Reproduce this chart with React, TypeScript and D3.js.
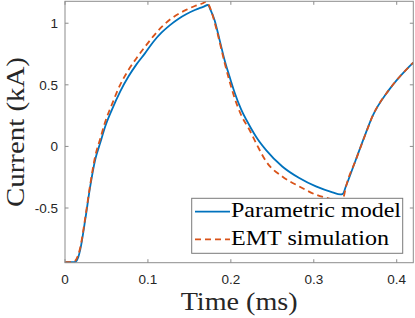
import React from "react";
import * as d3 from "d3";

const seriesNames = ["Parametric model", "EMT simulation"];
const xTicks = [0, 0.1, 0.2, 0.3, 0.4];
const yTicks = [-0.5, 0, 0.5, 1];
const yTickLabels = ["-0.5", "0", "0.5", "1"];
const xTickLabels = ["0", "0.1", "0.2", "0.3", "0.4"];

const paramT = [0, 0.010, 0.013, 0.016, 0.0184, 0.0244, 0.0304, 0.0364, 0.0424, 0.0485, 0.0565, 0.0665, 0.0765, 0.0866, 0.0966, 0.1066, 0.1166, 0.1266, 0.1366, 0.1466, 0.1566, 0.1666, 0.1723, 0.176, 0.1803, 0.1864, 0.1924, 0.1984, 0.2044, 0.2124, 0.2224, 0.2324, 0.2425, 0.262, 0.2825, 0.3026, 0.3226, 0.332, 0.335, 0.3387, 0.3507, 0.3627, 0.3707, 0.3907, 0.411, 0.42];
const paramV = [-0.94, -0.94, -0.935, -0.9, -0.838, -0.595, -0.325, -0.108, 0.027, 0.162, 0.297, 0.445, 0.567, 0.67, 0.757, 0.85, 0.925, 0.985, 1.035, 1.075, 1.107, 1.133, 1.148, 1.1, 1.027, 0.865, 0.702, 0.567, 0.44, 0.3, 0.17, 0.058, -0.03, -0.163, -0.257, -0.325, -0.373, -0.39, -0.385, -0.325, -0.108, 0.108, 0.243, 0.459, 0.62, 0.68];

const emtT = [0, 0.008, 0.012, 0.016, 0.0184, 0.0244, 0.0304, 0.0364, 0.0424, 0.0485, 0.0565, 0.0665, 0.0765, 0.0866, 0.0966, 0.1066, 0.1166, 0.1266, 0.1366, 0.1466, 0.1566, 0.1656, 0.1703, 0.174, 0.1803, 0.1864, 0.1924, 0.1984, 0.2044, 0.2124, 0.2224, 0.2324, 0.2425, 0.262, 0.2825, 0.3026, 0.3226, 0.332, 0.336, 0.3387, 0.3507, 0.3627, 0.3707, 0.3907, 0.411, 0.42];
const emtV = [-0.94, -0.94, -0.93, -0.88, -0.82, -0.58, -0.31, -0.08, 0.06, 0.2, 0.34, 0.5, 0.62, 0.72, 0.81, 0.895, 0.97, 1.03, 1.075, 1.11, 1.14, 1.16, 1.175, 1.14, 1.01, 0.85, 0.68, 0.53, 0.395, 0.255, 0.135, 0.0, -0.122, -0.244, -0.325, -0.392, -0.43, -0.445, -0.41, -0.33, -0.11, 0.105, 0.243, 0.459, 0.62, 0.68];

const colors = ["#0072BD", "#D95319"];

export default function App() {
  const W = 415, H = 318;
  const left = 65, right = 413.3, top = 1.3, bottom = 262.7;
  const x = d3.scaleLinear().domain([0, 0.42]).range([left, right]);
  const y = d3.scaleLinear().domain([-0.944, 1.178]).range([bottom, top]);
  const line = d3.line<[number, number]>().x(d => x(d[0])).y(d => y(d[1])).curve(d3.curveMonotoneX);
  const pData: [number, number][] = paramT.map((t, i) => [t, paramV[i]]);
  const eData: [number, number][] = emtT.map((t, i) => [t, emtV[i]]);
  const axisColor = "#8c8c8c";
  const tickLen = 3.5;
  const serif = "'Liberation Serif', 'DejaVu Serif', serif";
  const sans = "'Liberation Sans', Arial, sans-serif";

  const lgX = 191.7, lgY = 198.3, lgW = 211, lgH = 55;
  const rows = [211.7, 239.3];
  const textW = [170, 158];

  return (
    <svg width={W} height={H} style={{ position: "absolute", left: 0, top: 0, background: "#fff" }}>
      <defs>
        <clipPath id="plotclip">
          <rect x={left} y={top} width={right - left} height={bottom - top} />
        </clipPath>
      </defs>
      <rect x={0} y={0} width={W} height={H} fill="#fff" />
      <g clipPath="url(#plotclip)">
        <path d={line(pData) || ""} fill="none" stroke={colors[0]} strokeWidth={1.8} strokeLinejoin="round" />
        <path d={line(eData) || ""} fill="none" stroke={colors[1]} strokeWidth={1.8} strokeDasharray="6,4" />
      </g>
      <rect x={left} y={top} width={right - left} height={bottom - top} fill="none" stroke={axisColor} strokeWidth={1} />
      {xTicks.map((t, i) => (
        <g key={"xt" + i}>
          <line x1={x(t)} x2={x(t)} y1={bottom} y2={bottom - tickLen} stroke={axisColor} />
          <line x1={x(t)} x2={x(t)} y1={top} y2={top + tickLen} stroke={axisColor} />
          <text x={x(t)} y={284} textAnchor="middle" fontFamily={sans} fontSize={13.5} fill="#262626">{xTickLabels[i]}</text>
        </g>
      ))}
      {yTicks.map((v, i) => (
        <g key={"yt" + i}>
          <line x1={left} x2={left + tickLen} y1={y(v)} y2={y(v)} stroke={axisColor} />
          <line x1={right} x2={right - tickLen} y1={y(v)} y2={y(v)} stroke={axisColor} />
          <text x={58} y={y(v)} dy="0.36em" textAnchor="end" fontFamily={sans} fontSize={13.5} fill="#262626">{yTickLabels[i]}</text>
        </g>
      ))}
      <text x={(left + right) / 2} y={310} textAnchor="middle" fontFamily={serif} fontSize={25} fill="#262626" textLength={117} lengthAdjust="spacingAndGlyphs">Time (ms)</text>
      <text transform={`translate(24, ${(top + bottom) / 2}) rotate(-90)`} textAnchor="middle" fontFamily={serif} fontSize={25} fill="#262626" textLength={150} lengthAdjust="spacingAndGlyphs">Current (kA)</text>
      <rect x={lgX} y={lgY} width={lgW} height={lgH} fill="#fff" stroke="#7a7a7a" strokeWidth={1} />
      {seriesNames.map((n, i) => (
        <g key={"lg" + i}>
          <line x1={195} x2={230} y1={rows[i]} y2={rows[i]} stroke={colors[i]} strokeWidth={1.8} strokeDasharray={i === 1 ? "6,4" : undefined} />
          <text x={231} y={rows[i] + 5.5} fontFamily={serif} fontSize={21} fill="#000" textLength={textW[i]} lengthAdjust="spacingAndGlyphs">{n}</text>
        </g>
      ))}
    </svg>
  );
}
